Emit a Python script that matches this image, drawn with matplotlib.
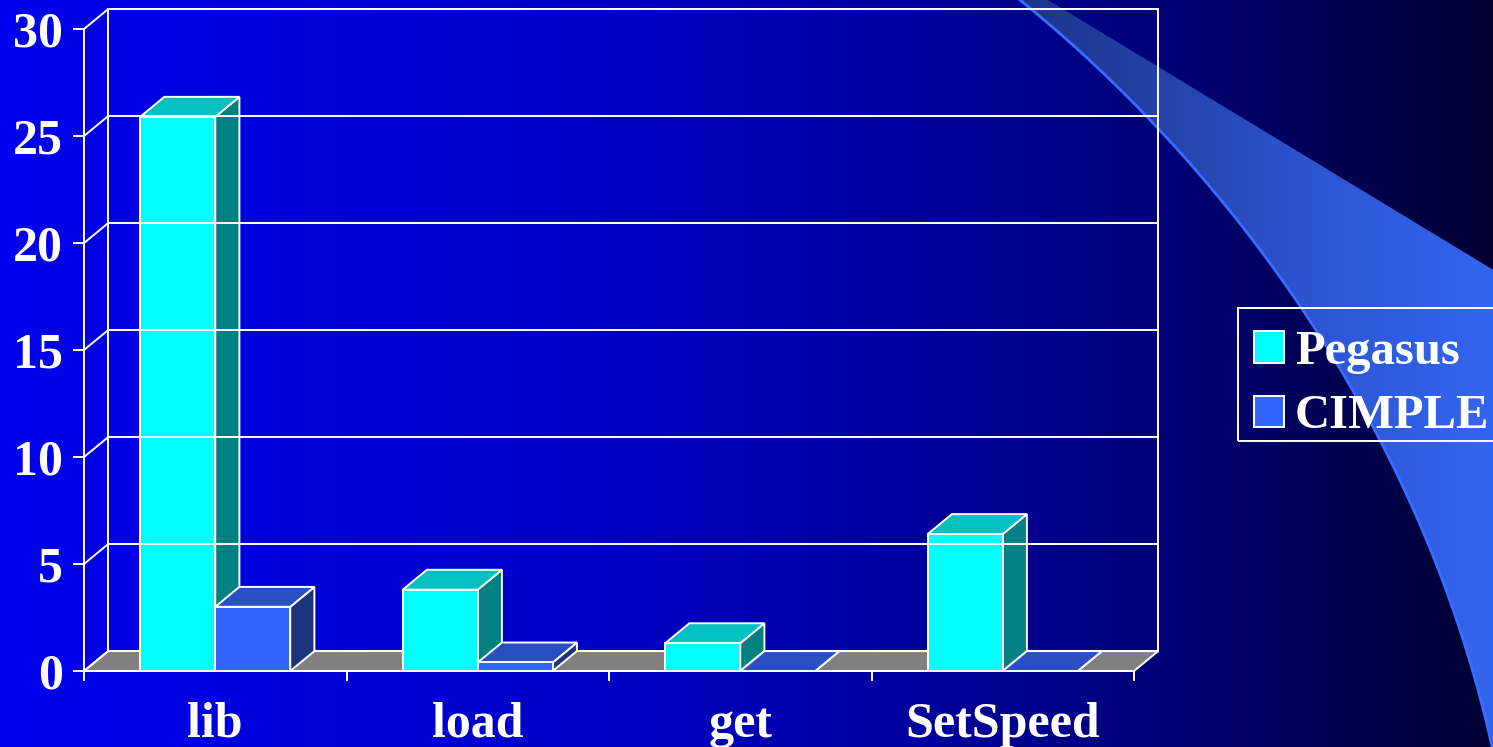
import matplotlib
matplotlib.use("Agg")
import matplotlib.pyplot as plt
from matplotlib.patches import Polygon, Rectangle, Patch, PathPatch
from matplotlib.path import Path
import numpy as np

# data
categories = ["lib", "load", "get", "SetSpeed"]
series = ["Pegasus", "CIMPLE"]
pegasus = [25.9, 3.8, 1.3, 6.4]
cimple = [3.0, 0.4, 0.0, 0.0]
yticks = [0, 5, 10, 15, 20, 25, 30]

# colours: front, top, side
front_cols = ["#00FFFF", "#3366FF"]
top_cols = ["#00C0C0", "#2850C0"]
side_cols = ["#008080", "#1C3380"]

W, H = 1493, 747
plt.rcParams['font.family'] = ['Liberation Serif', 'DejaVu Serif']
plt.rcParams['font.weight'] = 'bold'
FS = 36

fig = plt.figure(figsize=(W / 100, H / 100), dpi=100)

# ---- slide background: horizontal blue gradient + swoosh ----
bg = fig.add_axes([0, 0, 1, 1], zorder=0)
bg.set_xlim(0, W)
bg.set_ylim(H, 0)
bg.axis("off")
xs = np.arange(W)
blue = np.interp(xs, [0, 600, 900, 1150, 1493], [238, 198, 160, 122, 50]) / 255
grad = np.zeros((2, W, 3))
grad[:, :, 2] = blue
bg.imshow(grad, extent=[0, W, H, 0], aspect="auto", interpolation="bilinear")

# swoosh band (decoration, pixel space): cubic bezier left edge
t = np.linspace(0, 1, 200)[:, None]
P = np.array([(1020, 0), (1200, 145), (1420, 405), (1495, 760)])
curve = ((1 - t) ** 3 * P[0] + 3 * (1 - t) ** 2 * t * P[1]
         + 3 * (1 - t) * t ** 2 * P[2] + t ** 3 * P[3])
band = np.vstack([curve, [(1510, 770), (1510, 280), (1048, 0)]])
band_path = Path(np.vstack([band, band[:1]]), closed=True)
clip = PathPatch(band_path, transform=bg.transData, facecolor="none", edgecolor="none")
bg.add_patch(clip)
bx = np.arange(1000, W)
sw = np.zeros((2, len(bx), 3))
sw[:, :, 0] = np.interp(bx, [1020, 1160, 1300, 1493], [28, 36, 44, 51]) / 255
sw[:, :, 1] = np.interp(bx, [1020, 1160, 1300, 1493], [52, 66, 84, 102]) / 255
sw[:, :, 2] = np.interp(bx, [1020, 1160, 1300, 1493], [140, 168, 208, 240]) / 255
im = bg.imshow(sw, extent=[1000, W, H, 0], aspect="auto", interpolation="bilinear")
im.set_clip_path(clip)
bg.plot(curve[:, 0], curve[:, 1], color="#3A6CFF", lw=2)

# ---- chart ----
ax = fig.add_axes([84 / W, (H - 671) / H, (1134 - 84) / W, (671 - 29) / H], zorder=1)
ax.set_facecolor("none")
ax.set_xlim(0, len(categories))
ax.set_ylim(0, 30)

DX, DY = 0.092, 0.93     # 3-D depth offset in data units
bw = 75 / 262.5          # bar width
ec = "white"
lw = 1.4
n = len(categories)

# back wall, left wall edges, gridlines
ax.add_patch(Rectangle((DX, DY), n, 30, fill=False, ec=ec, lw=lw, clip_on=False))
for v in yticks:
    ax.plot([0, DX], [v, v + DY], color=ec, lw=lw, clip_on=False)
    if v > 0:
        ax.plot([DX, n + DX], [v + DY, v + DY], color=ec, lw=lw, clip_on=False)

# floor
ax.add_patch(Polygon([(0, 0), (n, 0), (n + DX, DY), (DX, DY)], closed=True,
                     fc="#808080", ec=ec, lw=lw, clip_on=False))

# bars
for i in range(n):
    for j, vals in enumerate([pegasus, cimple]):
        v = vals[i]
        x0 = i + 0.5 - bw + j * bw
        ax.add_patch(Polygon([(x0 + bw, 0), (x0 + bw + DX, DY), (x0 + bw + DX, v + DY), (x0 + bw, v)],
                             closed=True, fc=side_cols[j], ec=ec, lw=lw, clip_on=False))
        ax.add_patch(Polygon([(x0, v), (x0 + bw, v), (x0 + bw + DX, v + DY), (x0 + DX, v + DY)],
                             closed=True, fc=top_cols[j], ec=ec, lw=lw, clip_on=False))
        ax.add_patch(Rectangle((x0, 0), bw, v, fc=front_cols[j], ec=ec, lw=lw, clip_on=False))

for s in ["top", "right"]:
    ax.spines[s].set_visible(False)
for s in ["left", "bottom"]:
    ax.spines[s].set_color(ec)
    ax.spines[s].set_linewidth(lw)
    ax.spines[s].set_zorder(5)

ax.set_yticks(yticks)
ax.set_yticklabels([str(t) for t in yticks])
ax.tick_params(axis="y", colors="white", length=8, width=lw, pad=7, labelsize=FS)
ax.set_xticks(range(n + 1))
ax.set_xticklabels([])
ax.tick_params(axis="x", which="major", colors="white", length=7, width=lw)
ax.set_xticks([i + 0.5 for i in range(n)], minor=True)
ax.set_xticklabels(categories, minor=True)
ax.tick_params(axis="x", which="minor", length=0, pad=22, labelsize=FS, labelcolor="white")

# legend (frame drawn separately so it can sit tight like the original)
handles = [Patch(fc=front_cols[k], ec="white", lw=lw) for k in range(2)]
leg = fig.legend(handles, series, loc="upper left", bbox_to_anchor=(1254 / W, 1 - 330 / H),
                 borderaxespad=0, frameon=False,
                 prop={"family": "Liberation Serif", "weight": "bold", "size": 35},
                 labelcolor="white", handlelength=0.62, handleheight=0.62, handletextpad=0.22,
                 borderpad=0, labelspacing=0.42)
leg.set_zorder(3)
fig.patches.append(Rectangle((1238 / W, 1 - 441 / H), 300 / W, 133 / H, transform=fig.transFigure,
                             fill=False, ec="white", lw=lw, zorder=3))

fig.savefig("out.png", dpi=100)
